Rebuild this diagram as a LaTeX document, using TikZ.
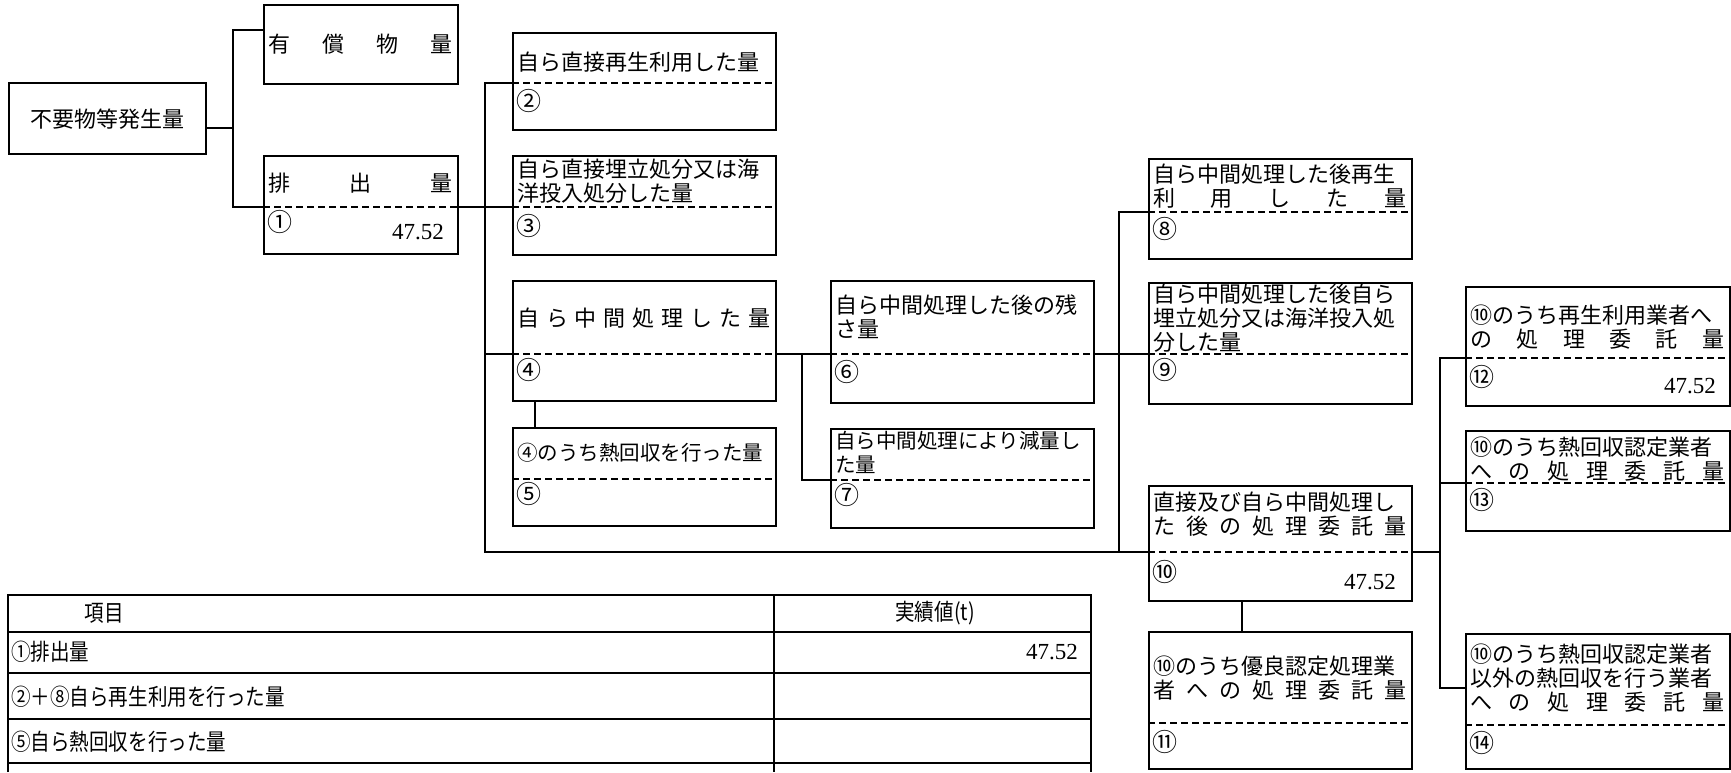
\documentclass[tikz,border=0pt]{standalone}
\usepackage{fontspec}
\newfontfamily\jp{Noto Sans CJK JP}
\newfontfamily\jpn[FakeStretch=0.85]{Noto Sans CJK JP}
\newfontfamily\num{Liberation Serif}
\tikzstyle{box}=[rectangle,draw=black,line width=2.4pt,inner sep=0pt,anchor=north west]
\tikzstyle{sep}=[line width=2.6pt,dash pattern=on 7pt off 4pt]
\tikzstyle{link}=[line width=1.9pt]
\tikzstyle{grid}=[line width=2.6pt]
\tikzstyle{lbl}=[inner sep=0pt,anchor=west,font={\jp\fontsize{22}{24}\selectfont}]
\tikzstyle{lbls}=[inner sep=0pt,anchor=north west,align=left,text width=253pt,font={\jp\fontsize{22}{24}\selectfont}]
\tikzstyle{small}=[font={\jp\fontsize{20.5}{24}\selectfont}]
\tikzstyle{no}=[inner sep=0pt,anchor=west,font={\jp\fontsize{25}{24}\selectfont}]
\tikzstyle{cell}=[inner sep=0pt,anchor=west,font={\jpn\fontsize{23}{24}\selectfont}]
\tikzstyle{val}=[inner sep=0pt,anchor=east,font={\num\fontsize{23}{24}\selectfont}]

\begin{document}
\begin{tikzpicture}[x=1pt,y=-1pt]
		\useasboundingbox (0,0) rectangle (1731,772);

		\node (b0) at (8,82) [box,minimum width=197pt,minimum height=71pt] {};
		\node (byu) at (263,4) [box,minimum width=194pt,minimum height=79pt] {};
		\node (b1) at (263,155) [box,minimum width=194pt,minimum height=98pt] {};
		\node (b2) at (512,32) [box,minimum width=263pt,minimum height=97pt] {};
		\node (b3) at (512,155) [box,minimum width=263pt,minimum height=99pt] {};
		\node (b4) at (512,280) [box,minimum width=263pt,minimum height=120pt] {};
		\node (b5) at (512,427) [box,minimum width=263pt,minimum height=98pt] {};
		\node (b6) at (830,280) [box,minimum width=263pt,minimum height=122pt] {};
		\node (b7) at (830,428) [box,minimum width=263pt,minimum height=99pt] {};
		\node (b8) at (1148,158) [box,minimum width=263pt,minimum height=100pt] {};
		\node (b9) at (1148,282) [box,minimum width=263pt,minimum height=121pt] {};
		\node (b10) at (1148,485) [box,minimum width=263pt,minimum height=115pt] {};
		\node (b11) at (1148,631) [box,minimum width=263pt,minimum height=137pt] {};
		\node (b12) at (1465,286) [box,minimum width=264pt,minimum height=119pt] {};
		\node (b13) at (1465,430) [box,minimum width=264pt,minimum height=100pt] {};
		\node (b14) at (1465,633) [box,minimum width=264pt,minimum height=135pt] {};

		\draw [sep] ([yshift=-52pt]b1.north west) -- ([yshift=-52pt]b1.north east);
		\draw [sep] ([yshift=-51pt]b2.north west) -- ([yshift=-51pt]b2.north east);
		\draw [sep] ([yshift=-52pt]b3.north west) -- ([yshift=-52pt]b3.north east);
		\draw [sep] ([yshift=-74pt]b4.north west) -- ([yshift=-74pt]b4.north east);
		\draw [sep] ([yshift=-52pt]b5.north west) -- ([yshift=-52pt]b5.north east);
		\draw [sep] ([yshift=-74pt]b6.north west) -- ([yshift=-74pt]b6.north east);
		\draw [sep] ([yshift=-52pt]b7.north west) -- ([yshift=-52pt]b7.north east);
		\draw [sep] ([yshift=-54pt]b8.north west) -- ([yshift=-54pt]b8.north east);
		\draw [sep] ([yshift=-72pt]b9.north west) -- ([yshift=-72pt]b9.north east);
		\draw [sep] ([yshift=-67pt]b10.north west) -- ([yshift=-67pt]b10.north east);
		\draw [sep] ([yshift=-92pt]b11.north west) -- ([yshift=-92pt]b11.north east);
		\draw [sep] ([yshift=-72pt]b12.north west) -- ([yshift=-72pt]b12.north east);
		\draw [sep] ([yshift=-53pt]b13.north west) -- ([yshift=-53pt]b13.north east);
		\draw [sep] ([yshift=-92pt]b14.north west) -- ([yshift=-92pt]b14.north east);

		\coordinate (s1) at (233,128);
		\coordinate (s2) at (485,207);
		\coordinate (s3) at (485,552);
		\coordinate (s4) at (802,354);
		\coordinate (s5) at (1119,552);
		\coordinate (s6) at (1440,552);

		\draw [link] (b0.east |- s1) -- (s1);
		\draw [link] ([yshift=-26pt]byu.north west) -| (s1) |- ([yshift=-52pt]b1.north west);
		\draw [link] ([yshift=-52pt]b1.north east) -- ([yshift=-52pt]b3.north west);
		\draw [link] ([yshift=-51pt]b2.north west) -| (s3) -- ([yshift=-67pt]b10.north west);
		\draw [link] ([yshift=-74pt]b4.north west) -| (s2);
		\draw [link] ([xshift=23pt]b4.south west) -- ([xshift=23pt]b5.north west);
		\draw [link] ([yshift=-74pt]b4.north east) -- ([yshift=-74pt]b6.north west);
		\draw [link] (s4) |- ([yshift=-52pt]b7.north west);
		\draw [link] ([yshift=-74pt]b6.north east) -- ([yshift=-72pt]b9.north west);
		\draw [link] ([yshift=-54pt]b8.north west) -| (s5);
		\draw [link] ([xshift=94pt]b10.south west) -- ([xshift=94pt]b11.north west);
		\draw [link] ([yshift=-67pt]b10.north east) -- (s6);
		\draw [link] ([yshift=-72pt]b12.north west) -| (s6) |- ([yshift=-55pt]b14.north west);
		\draw [link] ([yshift=-53pt]b13.north west) -| (s6);

		\node (t0) at (b0) [lbl,anchor=center] {不要物等発生量};
		\node (tyu) at (268,44) [lbl] {\hbox to 184pt{有\hfill 償\hfill 物\hfill 量}};
		\node (t1) at (268,183) [lbl] {\hbox to 184pt{排\hfill 出\hfill 量}};
		\node (n1) at (267,222) [no] {①};
		\node (v1) at (444,232) [val] {47.52};
		\node (t2) at (517,62) [lbl] {自ら直接再生利用した量};
		\node (n2) at (516,101) [no] {②};
		\node (t3) at (517,159) [lbls] {自ら直接埋立処分又は海\\洋投入処分した量};
		\node (n3) at (516,226) [no] {③};
		\node (t4) at (517,318) [lbl] {\hbox to 253pt{自\hfill ら\hfill 中\hfill 間\hfill 処\hfill 理\hfill し\hfill た\hfill 量}};
		\node (n4) at (516,370) [no] {④};
		\node (t5) at (517,453) [lbl,small] {④のうち熱回収を行った量};
		\node (n5) at (516,494) [no] {⑤};
		\node (t6) at (835,295) [lbls] {自ら中間処理した後の残\\さ量};
		\node (n6) at (834,372) [no] {⑥};
		\node (t7) at (835,431) [lbls,small] {自ら中間処理により減量し\\た量};
		\node (n7) at (834,495) [no] {⑦};
		\node (t8) at (1153,164) [lbls] {自ら中間処理した後再生\\\hbox to 253pt{利\hfill 用\hfill し\hfill た\hfill 量}};
		\node (n8) at (1152,229) [no] {⑧};
		\node (t9) at (1153,284) [lbls] {自ら中間処理した後自ら\\埋立処分又は海洋投入処\\分した量};
		\node (n9) at (1152,370) [no] {⑨};
		\node (t10) at (1153,492) [lbls] {直接及び自ら中間処理し\\\hbox to 253pt{た\hfill 後\hfill の\hfill 処\hfill 理\hfill 委\hfill 託\hfill 量}};
		\node (n10) at (1152,572) [no] {⑩};
		\node (v10) at (1396,582) [val] {47.52};
		\node (t11) at (1153,656) [lbls] {⑩のうち優良認定処理業\\\hbox to 253pt{者\hfill へ\hfill の\hfill 処\hfill 理\hfill 委\hfill 託\hfill 量}};
		\node (n11) at (1152,742) [no] {⑪};
		\node (t12) at (1470,305) [lbls,text width=254pt] {⑩のうち再生利用業者へ\\\hbox to 254pt{の\hfill 処\hfill 理\hfill 委\hfill 託\hfill 量}};
		\node (n12) at (1469,377) [no] {⑫};
		\node (v12) at (1716,386) [val] {47.52};
		\node (t13) at (1470,437) [lbls,text width=254pt] {⑩のうち熱回収認定業者\\\hbox to 254pt{へ\hfill の\hfill 処\hfill 理\hfill 委\hfill 託\hfill 量}};
		\node (n13) at (1469,500) [no] {⑬};
		\node (t14) at (1470,644) [lbls,text width=254pt] {⑩のうち熱回収認定業者\\以外の熱回収を行う業者\\\hbox to 254pt{へ\hfill の\hfill 処\hfill 理\hfill 委\hfill 託\hfill 量}};
		\node (n14) at (1469,743) [no] {⑭};

		\draw [grid] (8,772) -- (8,595) -- (1091,595) -- (1091,772);
		\draw [grid] (774,595) -- (774,772);
		\draw [grid] (8,632) -- (1091,632);
		\draw [grid] (8,673) -- (1091,673);
		\draw [grid] (8,719) -- (1091,719);
		\draw [grid] (8,763) -- (1091,763);

		\node (h1) at (104,613) [cell,anchor=center] {項目};
		\node (h2) at (935,613) [cell,anchor=center] {実績値(t)};
		\node (r1) at (11,652) [cell] {①排出量};
		\node (rv1) at (1078,652) [val] {47.52};
		\node (r2) at (11,697) [cell] {②＋⑧自ら再生利用を行った量};
		\node (r3) at (11,742) [cell] {⑤自ら熱回収を行った量};
	\end{tikzpicture}
\end{document}
